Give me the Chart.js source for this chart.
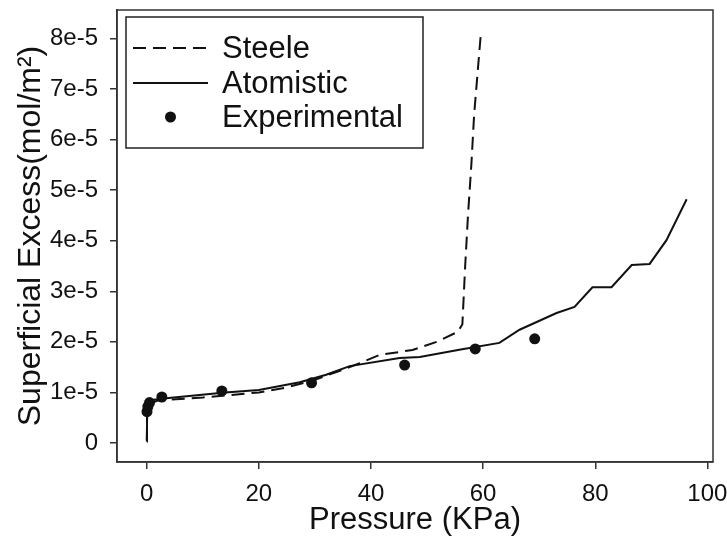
<!DOCTYPE html>
<html>
<head>
<meta charset="utf-8">
<script src="https://cdn.jsdelivr.net/npm/chart.js@4/dist/chart.umd.min.js"></script>
<style>
  html, body { margin: 0; padding: 0; background: #fff; }
  #c { display: block; }
</style>
</head>
<body>
<canvas id="c" width="727" height="542"></canvas>
<script>
// ---- Data ----
const seriesNames = ["Steele", "Atomistic", "Experimental"];

const steelePressure = [0, 0.1, 0.5, 2, 6, 10, 15, 20, 25, 30, 35, 38, 41.5, 47.4, 51.7, 55.5, 56.3, 56.8, 57.3, 57.9, 58.4, 59.0, 59.6];
const steeleExcess   = [0.05e-5, 0.6e-5, 0.78e-5, 0.84e-5, 0.87e-5, 0.9e-5, 0.95e-5, 1.0e-5, 1.1e-5, 1.25e-5, 1.45e-5, 1.58e-5, 1.74e-5, 1.84e-5, 2.0e-5, 2.2e-5, 2.35e-5, 3.5e-5, 4.5e-5, 5.5e-5, 6.5e-5, 7.3e-5, 8.1e-5];

const atomPressure = [0, 0.05, 0.3, 1, 3, 9.4, 14, 20, 27.3, 32, 36.2, 45.1, 48.7, 56, 62.9, 66.5, 73.1, 76.3, 79.5, 82.9, 86.5, 89.7, 92.7, 96.3];
const atomExcess   = [0.03e-5, 0.6e-5, 0.78e-5, 0.85e-5, 0.88e-5, 0.95e-5, 1.0e-5, 1.05e-5, 1.2e-5, 1.35e-5, 1.52e-5, 1.68e-5, 1.7e-5, 1.85e-5, 1.98e-5, 2.24e-5, 2.57e-5, 2.69e-5, 3.08e-5, 3.08e-5, 3.52e-5, 3.54e-5, 4.01e-5, 4.82e-5];

const expPressure = [0.05, 0.2, 0.5, 2.7, 13.4, 29.4, 46, 58.6, 69.2];
const expExcess   = [0.62e-5, 0.72e-5, 0.8e-5, 0.91e-5, 1.03e-5, 1.19e-5, 1.54e-5, 1.86e-5, 2.06e-5];

const xTickValues = [0, 20, 40, 60, 80, 100];
const xTickLabels = ["0", "20", "40", "60", "80", "100"];
const yTickValues = [0, 1e-5, 2e-5, 3e-5, 4e-5, 5e-5, 6e-5, 7e-5, 8e-5];
const yTickLabels = ["0", "1e-5", "2e-5", "3e-5", "4e-5", "5e-5", "6e-5", "7e-5", "8e-5"];

const xTitle = "Pressure (KPa)";
const yTitle = "Superficial Excess(mol/m\u00B2)";

// ---- Build ----
const pts = (xs, ys) => xs.map((x, i) => ({ x: x, y: ys[i] }));
const FONT = '"Liberation Sans", Arial, Helvetica, sans-serif';
const INK = '#111';

const frameAndLegend = {
  id: 'frameAndLegend',
  afterDraw(chart) {
    const ctx = chart.ctx;
    const a = chart.chartArea;
    ctx.save();
    // plot frame
    ctx.strokeStyle = '#333';
    ctx.lineWidth = 1.5;
    ctx.strokeRect(a.left, a.top, a.right - a.left, a.bottom - a.top);

    // legend box
    const bx = a.left + 9, by = a.top + 7, bw = 297, bh = 131;
    ctx.fillStyle = '#fff';
    ctx.fillRect(bx, by, bw, bh);
    ctx.strokeStyle = '#222';
    ctx.lineWidth = 1.5;
    ctx.strokeRect(bx, by, bw, bh);

    const rows = [by + 31, by + 66, by + 100];
    const x0 = bx + 7, x1 = bx + 82, tx = bx + 96;
    chart.data.datasets.forEach((ds, i) => {
      const y = rows[i];
      if (ds.showLine) {
        ctx.beginPath();
        ctx.setLineDash(ds.borderDash || []);
        ctx.strokeStyle = ds.borderColor;
        ctx.lineWidth = ds.borderWidth;
        ctx.moveTo(x0, y);
        ctx.lineTo(x1, y);
        ctx.stroke();
        ctx.setLineDash([]);
      } else {
        ctx.beginPath();
        ctx.fillStyle = ds.pointBackgroundColor;
        ctx.arc((x0 + x1) / 2, y, ds.pointRadius, 0, Math.PI * 2);
        ctx.fill();
      }
      ctx.fillStyle = INK;
      ctx.font = '31px ' + FONT;
      ctx.textBaseline = 'middle';
      ctx.textAlign = 'left';
      ctx.fillText(ds.label, tx, y + 1);
    });
    ctx.restore();
  }
};

new Chart(document.getElementById('c'), {
  type: 'scatter',
  data: {
    datasets: [
      {
        label: seriesNames[0],
        data: pts(steelePressure, steeleExcess),
        showLine: true,
        borderColor: INK,
        borderWidth: 2,
        borderDash: [13, 7],
        pointRadius: 0,
        fill: false,
        tension: 0
      },
      {
        label: seriesNames[1],
        data: pts(atomPressure, atomExcess),
        showLine: true,
        borderColor: INK,
        borderWidth: 2,
        pointRadius: 0,
        fill: false,
        tension: 0
      },
      {
        label: seriesNames[2],
        data: pts(expPressure, expExcess),
        showLine: false,
        pointRadius: 5.5,
        pointBackgroundColor: INK,
        pointBorderColor: INK,
        pointBorderWidth: 0
      }
    ]
  },
  options: {
    responsive: false,
    animation: false,
    devicePixelRatio: 1,
    layout: { padding: { top: 10, right: 14, left: 0, bottom: 0 } },
    plugins: {
      legend: { display: false },
      tooltip: { enabled: false }
    },
    scales: {
      x: {
        type: 'linear',
        min: -5.3,
        max: 101,
        afterBuildTicks: s => { s.ticks = xTickValues.map(v => ({ value: v })); },
        afterFit: s => { s.height = 80; s.paddingRight = 0; s.paddingLeft = 0; },
        grid: { drawOnChartArea: false, drawTicks: true, tickLength: 7, color: '#333', lineWidth: 1.5 },
        border: { display: true, color: '#333', width: 1.5 },
        ticks: {
          color: INK,
          font: { family: FONT, size: 24 },
          padding: 11,
          maxRotation: 0,
          callback: (v, i) => xTickLabels[i]
        },
        title: {
          display: true,
          text: xTitle,
          color: INK,
          font: { family: FONT, size: 31 },
          padding: { top: 0, bottom: 3 }
        }
      },
      y: {
        type: 'linear',
        min: -0.375e-5,
        max: 8.56e-5,
        afterBuildTicks: s => { s.ticks = yTickValues.map(v => ({ value: v })); },
        afterFit: s => { s.width = 117; s.paddingTop = 0; s.paddingBottom = 0; },
        grid: { drawOnChartArea: false, drawTicks: true, tickLength: 7, color: '#333', lineWidth: 1.5 },
        border: { display: true, color: '#333', width: 1.5 },
        ticks: {
          color: INK,
          font: { family: FONT, size: 24 },
          padding: 12,
          callback: (v, i) => yTickLabels[i]
        },
        title: {
          display: true,
          text: yTitle,
          color: INK,
          font: { family: FONT, size: 32 },
          padding: { top: 12, bottom: 0 }
        }
      }
    }
  },
  plugins: [frameAndLegend]
});
</script>
</body>
</html>
